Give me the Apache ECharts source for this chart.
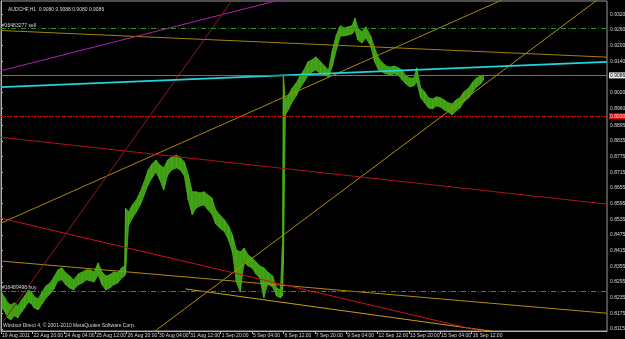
<!DOCTYPE html>
<html>
<head>
<meta charset="utf-8">
<script src="https://cdn.jsdelivr.net/npm/echarts@6/dist/echarts.min.js"></script>
<style>
html,body{margin:0;padding:0;background:#000;}
#chart{width:625px;height:339px;}
</style>
</head>
<body>
<div id="chart"></div>
<script>
// bar index (H1 bars from 19 Aug 2011 12:00) and high/low
const barIdx = [1,4,7,10,14,17,21,24,28,31,34,38,42,46,50,54,58,62,66,70,74,79,83,87,91,95,99,103,107,111,115,119,123,126,127,130,134,138,142,146,150,154,158,162,166,170,174,179,183,187,191,195,199,203,207,211,215,219,223,228,232,236,240,244,248,252,256,260,264,268,272,277,281,285,287,288,290,293,297,301,305,309,313,317,321,326,330,334,338,342,346,350,354,358,361,364,368,372,377,381,385,389,393,397,401,405,409,413,417,421,424,428,432,436,440,444,448,452,456,460,464,468,472,477,481,485,489,492];
const highs = [0.8253,0.8234,0.8215,0.8207,0.8215,0.8203,0.8226,0.8241,0.8264,0.8257,
  0.8238,0.8230,0.8257,0.8280,0.8291,0.8314,0.8341,0.8349,0.8330,0.8318,
  0.8303,0.8326,0.8333,0.8341,0.8341,0.8333,0.8368,0.8333,0.8318,0.8322,
  0.8333,0.8330,0.8349,0.8356,0.8578,0.8563,0.8590,0.8609,0.8640,0.8678,
  0.8724,0.8747,0.8762,0.8743,0.8732,0.8762,0.8774,0.8781,0.8770,0.8755,
  0.8705,0.8640,0.8640,0.8636,0.8640,0.8628,0.8617,0.8571,0.8552,0.8532,
  0.8510,0.8475,0.8418,0.8410,0.8425,0.8398,0.8387,0.8372,0.8356,0.8349,
  0.8333,0.8318,0.8272,0.8264,0.8437,0.9088,0.8992,0.9011,0.9038,0.9057,
  0.9084,0.9107,0.9138,0.9145,0.9157,0.9138,0.9122,0.9107,0.9184,0.9241,
  0.9276,0.9268,0.9272,0.9276,0.9306,0.9268,0.9253,0.9272,0.9237,0.9191,
  0.9153,0.9134,0.9122,0.9118,0.9122,0.9115,0.9107,0.9084,0.9076,0.9076,
  0.9115,0.9038,0.9023,0.9000,0.8996,0.9004,0.9000,0.8992,0.8981,0.8977,
  0.8992,0.9000,0.9023,0.9038,0.9061,0.9076,0.9084,0.9088];
const lows = [0.8195,0.8180,0.8157,0.8150,0.8165,0.8157,0.8180,0.8195,0.8218,0.8211,
  0.8195,0.8188,0.8211,0.8234,0.8249,0.8268,0.8299,0.8303,0.8284,0.8272,
  0.8264,0.8284,0.8291,0.8303,0.8299,0.8295,0.8322,0.8284,0.8264,0.8272,
  0.8284,0.8291,0.8310,0.8318,0.8326,0.8510,0.8540,0.8563,0.8590,0.8628,
  0.8667,0.8693,0.8716,0.8686,0.8647,0.8705,0.8724,0.8732,0.8724,0.8701,
  0.8609,0.8552,0.8578,0.8586,0.8590,0.8571,0.8555,0.8517,0.8502,0.8487,
  0.8456,0.8410,0.8295,0.8257,0.8372,0.8356,0.8349,0.8326,0.8310,0.8234,
  0.8287,0.8276,0.8241,0.8234,0.8241,0.8360,0.8935,0.8954,0.8984,0.9007,
  0.9038,0.9061,0.9084,0.9099,0.9107,0.9092,0.9088,0.9080,0.9122,0.9184,
  0.9237,0.9237,0.9241,0.9245,0.9260,0.9222,0.9210,0.9230,0.9199,0.9138,
  0.9107,0.9099,0.9092,0.9088,0.9092,0.9088,0.9069,0.9053,0.9042,0.9046,
  0.9061,0.9000,0.8981,0.8961,0.8958,0.8969,0.8965,0.8954,0.8946,0.8935,
  0.8950,0.8961,0.8984,0.9000,0.9023,0.9042,0.9053,0.9069];

// time axis labels, one every 32 bars
const timeTickIdx = [0,32,64,96,128,160,192,224,256,288,320,352,384,416,448,480];
const timeLabels = ['19 Aug 2011','22 Aug 20:00','24 Aug 04:00','25 Aug 12:00','26 Aug 20:00','30 Aug 04:00','31 Aug 12:00','1 Sep 20:00','5 Sep 04:00','6 Sep 12:00','7 Sep 20:00','9 Sep 04:00','12 Sep 12:00','13 Sep 20:00','15 Sep 04:00','16 Sep 12:00'];
const priceTicks = [0.8115,0.8175,0.8235,0.8295,0.8355,0.8415,0.8475,0.8535,0.8595,0.8655,0.8715,0.8775,0.8835,0.8895,0.8960,0.9020,0.9140,0.9200,0.9260,0.9320];

const lastBar = [0.9080, 0.9088, 0.9080, 0.9086]; // O H L C
const orderLevels = [0.9265, 0.8261];
const orderNames = ['#16483277 sell', '#16489498 buy'];
const alertLevel = 0.8930;

// trend lines: [bar index, price] end points
const goldTop = [[0, 0.9258], [618, 0.9156]];
const goldMid = [[0, 0.8375], [618, 0.8175]];
const goldLow = [[188, 0.8268], [520, 0.8096]];
const goldRise1 = [[0, 0.8520], [511, 0.9375]];
const goldRise2 = [[150, 0.8087], [608, 0.9375]];
const magentaLine = [[0, 0.9104], [300, 0.9390]];
const maroonSteep = [[2, 0.8142], [236, 0.9375]];
const redUpper = [[0, 0.8849], [618, 0.8593]];
const redLower = [[0, 0.8539], [520, 0.8080]];
const cyanLine = [[0, 0.9041], [618, 0.9138]];

const FONT = "'Liberation Sans',Arial,sans-serif";
const AXIS_COLOR = '#b4b4b4';
const TEXT_COLOR = '#d8d8d8';
const FS = 5;

let chart = echarts.init(document.getElementById('chart'), null, { renderer: 'canvas' });

function trend(data, color, width) {
    return {
        type: 'line',
        data: data,
        symbol: 'none',
        silent: true,
        lineStyle: { color: color, width: width || 1 },
        z: 4
    };
}

// one quad between two neighbouring samples of the high/low band
const bandData = barIdx.slice(0, -1).map((x, i) => [x, lows[i], highs[i], barIdx[i + 1], lows[i + 1], highs[i + 1]]);

function hlMark(value, name, color, dash) {
    return {
        yAxis: value,
        lineStyle: { color: color, type: dash, width: 1 },
        label: { show: true, position: 'insideStartTop', distance: 1, formatter: name, color: TEXT_COLOR, fontSize: FS, fontFamily: FONT }
    };
}

let option = {
    backgroundColor: '#000000',
    animation: false,
    title: {
        text: 'AUDCHF,H1  ' + lastBar.map(v => v.toFixed(4)).join(' '),
        left: 3,
        top: 2,
        textStyle: { color: TEXT_COLOR, fontSize: FS, fontWeight: 'normal', fontFamily: FONT }
    },
    graphic: [{
        type: 'text',
        left: 3,
        top: 323,
        style: {
            text: 'Windsor Direct 4, \u00a9 2001-2010 MetaQuotes Software Corp.',
            fill: TEXT_COLOR,
            fontSize: FS,
            fontFamily: FONT
        }
    }],
    grid: {
        left: 1, right: 18, top: 1, bottom: 8,
        show: true,
        borderColor: '#9a9a9a',
        borderWidth: 1,
        outerBoundsMode: 'none'
    },
    xAxis: {
        type: 'value',
        min: 0,
        max: 618,
        axisLine: { show: true, lineStyle: { color: AXIS_COLOR } },
        axisTick: { show: true, customValues: timeTickIdx, length: 3, lineStyle: { color: AXIS_COLOR } },
        axisLabel: {
            customValues: timeTickIdx,
            formatter: v => timeLabels[timeTickIdx.indexOf(v)],
            align: 'left',
            margin: 2,
            padding: [0, 0, 0, 1],
            hideOverlap: false,
            color: TEXT_COLOR,
            fontSize: FS,
            fontFamily: FONT
        },
        splitLine: { show: false }
    },
    yAxis: {
        type: 'value',
        position: 'right',
        min: 0.8107,
        max: 0.9371,
        axisLine: { show: true, lineStyle: { color: AXIS_COLOR } },
        axisTick: { show: true, customValues: priceTicks, length: 2, lineStyle: { color: AXIS_COLOR } },
        axisLabel: {
            customValues: priceTicks,
            formatter: v => v.toFixed(4),
            margin: 3,
            hideOverlap: false,
            color: TEXT_COLOR,
            fontSize: FS,
            fontFamily: FONT
        },
        splitLine: { show: false }
    },
    series: [
        {
            name: 'AUDCHF',
            type: 'custom',
            data: bandData,
            encode: { x: [0, 3], y: [1, 2, 4, 5] },
            z: 3,
            silent: true,
            renderItem: function (params, api) {
                const a = api.coord([api.value(0), api.value(1)]);
                const b = api.coord([api.value(3), api.value(4)]);
                const c = api.coord([api.value(3), api.value(5)]);
                const d = api.coord([api.value(0), api.value(2)]);
                return {
                    type: 'polygon',
                    shape: { points: [a, b, c, d] },
                    style: { fill: '#3c9c12', stroke: '#4cb31a', lineWidth: 0.8 }
                };
            }
        },
        {
            name: 'levels',
            type: 'line',
            data: [],
            symbol: 'none',
            z: 5,
            markLine: {
                symbol: 'none',
                silent: true,
                animation: false,
                precision: 4,
                data: [
                    hlMark(orderLevels[0], orderNames[0], '#2a932a', [5, 2, 1, 2]),
                    hlMark(orderLevels[1], orderNames[1], '#2a932a', [5, 2, 1, 2]),
                    {
                        yAxis: lastBar[3],
                        lineStyle: { color: '#707070', type: 'solid', width: 1 },
                        label: { show: true, position: 'end', distance: 2, formatter: lastBar[3].toFixed(4), color: '#000', backgroundColor: '#eeeeee', padding: [1, 1, 0, 1], fontSize: FS, fontFamily: FONT }
                    },
                    {
                        yAxis: alertLevel,
                        lineStyle: { color: '#e00000', type: [2, 1], width: 1 },
                        label: { show: true, position: 'end', distance: 2, formatter: alertLevel.toFixed(4), color: '#ffe0e0', backgroundColor: '#ee0000', padding: [1, 1, 0, 1], fontSize: FS, fontFamily: FONT }
                    }
                ]
            }
        },
        trend(goldTop, '#a8820c'),
        trend(goldMid, '#b08a0c'),
        trend(goldLow, '#c9a010'),
        trend(goldRise1, '#a8880a'),
        trend(goldRise2, '#b08e0a'),
        trend(magentaLine, '#b41eb4'),
        trend(maroonSteep, '#8c1a2a'),
        trend(redUpper, '#b01020'),
        trend(redLower, '#c81020'),
        trend(cyanLine, '#1fd6da', 1.6)
    ]
};
chart.setOption(option);
</script>
</body>
</html>
